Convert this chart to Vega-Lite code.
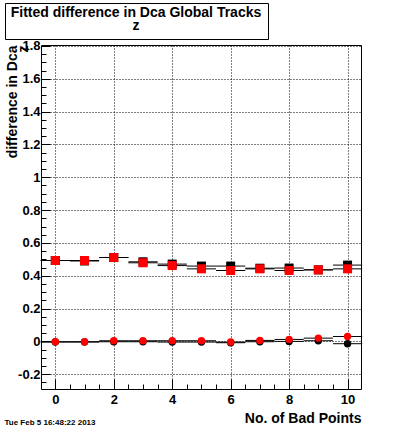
{
  "$schema": "https://vega.github.io/schema/vega-lite/v6.json",
  "background": "white",
  "padding": {"left": 4, "top": 2, "right": 0, "bottom": 0},
  "config": {"font": "Liberation Sans", "view": {"stroke": "black", "strokeWidth": 1}},
  "title": {"text": "Tue Feb  5 16:48:22 2013", "orient": "bottom", "anchor": "start", "fontSize": 8, "fontWeight": "bold", "color": "black", "offset": -6},
  "width": 320,
  "height": 344,
  "data": {"values": [
    {"x": 0, "v": 0.493, "s": "black", "g": "upper"},
    {"x": 1, "v": 0.490, "s": "black", "g": "upper"},
    {"x": 2, "v": 0.511, "s": "black", "g": "upper"},
    {"x": 3, "v": 0.485, "s": "black", "g": "upper"},
    {"x": 4, "v": 0.471, "s": "black", "g": "upper"},
    {"x": 5, "v": 0.459, "s": "black", "g": "upper"},
    {"x": 6, "v": 0.459, "s": "black", "g": "upper"},
    {"x": 7, "v": 0.446, "s": "black", "g": "upper"},
    {"x": 8, "v": 0.447, "s": "black", "g": "upper"},
    {"x": 9, "v": 0.436, "s": "black", "g": "upper"},
    {"x": 10, "v": 0.465, "s": "black", "g": "upper"},
    {"x": 0, "v": -0.004, "s": "black", "g": "lower"},
    {"x": 1, "v": -0.004, "s": "black", "g": "lower"},
    {"x": 2, "v": -0.002, "s": "black", "g": "lower"},
    {"x": 3, "v": -0.002, "s": "black", "g": "lower"},
    {"x": 4, "v": -0.004, "s": "black", "g": "lower"},
    {"x": 5, "v": -0.004, "s": "black", "g": "lower"},
    {"x": 6, "v": -0.008, "s": "black", "g": "lower"},
    {"x": 7, "v": -0.002, "s": "black", "g": "lower"},
    {"x": 8, "v": 0.000, "s": "black", "g": "lower"},
    {"x": 9, "v": 0.004, "s": "black", "g": "lower"},
    {"x": 10, "v": -0.014, "s": "black", "g": "lower"},
    {"x": 0, "v": 0.493, "s": "red", "g": "upper"},
    {"x": 1, "v": 0.493, "s": "red", "g": "upper"},
    {"x": 2, "v": 0.511, "s": "red", "g": "upper"},
    {"x": 3, "v": 0.479, "s": "red", "g": "upper"},
    {"x": 4, "v": 0.462, "s": "red", "g": "upper"},
    {"x": 5, "v": 0.442, "s": "red", "g": "upper"},
    {"x": 6, "v": 0.432, "s": "red", "g": "upper"},
    {"x": 7, "v": 0.442, "s": "red", "g": "upper"},
    {"x": 8, "v": 0.432, "s": "red", "g": "upper"},
    {"x": 9, "v": 0.436, "s": "red", "g": "upper"},
    {"x": 10, "v": 0.442, "s": "red", "g": "upper"},
    {"x": 0, "v": -0.002, "s": "red", "g": "lower"},
    {"x": 1, "v": -0.002, "s": "red", "g": "lower"},
    {"x": 2, "v": 0.004, "s": "red", "g": "lower"},
    {"x": 3, "v": 0.004, "s": "red", "g": "lower"},
    {"x": 4, "v": 0.004, "s": "red", "g": "lower"},
    {"x": 5, "v": 0.004, "s": "red", "g": "lower"},
    {"x": 6, "v": -0.004, "s": "red", "g": "lower"},
    {"x": 7, "v": 0.006, "s": "red", "g": "lower"},
    {"x": 8, "v": 0.012, "s": "red", "g": "lower"},
    {"x": 9, "v": 0.020, "s": "red", "g": "lower"},
    {"x": 10, "v": 0.030, "s": "red", "g": "lower"}
  ]},
  "resolve": {"axis": {"x": "independent", "y": "independent"}},
  "layer": [
    {
      "mark": {"type": "tick", "orient": "horizontal", "size": 29.2, "thickness": 1, "color": "black", "opacity": 1},
      "encoding": {
        "x": {"field": "x", "type": "quantitative", "scale": {"domain": [-0.49, 10.46], "nice": false, "zero": false},
              "axis": {"orient": "bottom", "values": [0,0.5,1,1.5,2,2.5,3,3.5,4,4.5,5,5.5,6,6.5,7,7.5,8,8.5,9,9.5,10], "labels": false, "grid": false, "domain": false, "tickSize": -5, "tickColor": "black", "tickWidth": 1, "title": null}},
        "y": {"field": "v", "type": "quantitative", "scale": {"domain": [-0.29, 1.806], "nice": false, "zero": false},
              "axis": {"orient": "left", "values": [-0.25,-0.2,-0.15,-0.1,-0.05,0,0.05,0.1,0.15,0.2,0.25,0.3,0.35,0.4,0.45,0.5,0.55,0.6,0.65,0.7,0.75,0.8,0.85,0.9,0.95,1,1.05,1.1,1.15,1.2,1.25,1.3,1.35,1.4,1.45,1.5,1.55,1.6,1.65,1.7,1.75,1.8], "labels": false, "grid": false, "domain": false, "tickSize": -5, "tickColor": "black", "tickWidth": 1, "title": null}}
      }
    },
    {
      "mark": {"type": "point", "filled": true, "opacity": 1, "strokeWidth": 0},
      "encoding": {
        "x": {"field": "x", "type": "quantitative",
              "axis": {"orient": "bottom", "values": [0,2,4,6,8,10], "grid": true, "gridColor": "black", "gridOpacity": 1, "gridDash": [1,2], "gridWidth": 1, "domain": false, "tickSize": -10, "tickColor": "black", "tickWidth": 1, "labelFontSize": 13, "labelFontWeight": "bold", "labelColor": "black", "labelPadding": 14, "title": "No. of Bad Points", "titleFontSize": 14, "titleFontWeight": "bold", "titleColor": "black", "titleAnchor": "end", "titlePadding": 5}},
        "y": {"field": "v", "type": "quantitative",
              "axis": {"orient": "left", "values": [-0.2,0,0.2,0.4,0.6,0.8,1,1.2,1.4,1.6,1.8], "labelExpr": "replace(format(datum.value, '~g'), '\u2212', '-')", "grid": true, "gridColor": "black", "gridOpacity": 1, "gridDash": [1,2], "gridWidth": 1, "domain": false, "tickSize": -9, "tickColor": "black", "tickWidth": 1, "labelFontSize": 13, "labelFontWeight": "bold", "labelColor": "black", "labelPadding": 10, "title": ["difference in Dca", "z"], "titleFontSize": 14, "titleFontWeight": "bold", "titleColor": "black", "titleAnchor": "end", "titleLineHeight": 11, "titlePadding": -13}},
        "color": {"field": "s", "type": "nominal", "scale": {"domain": ["black", "red"], "range": ["#000000", "#ff0000"]},
                  "legend": {"orient": "none", "legendX": -36, "legendY": -42, "values": ["black"], "title": ["Fitted difference in Dca Global Tracks", "z"], "titleOrient": "right", "titleAlign": "center", "titleFontSize": 14, "titleFontWeight": "bold", "titleColor": "black", "titleLineHeight": 13, "titlePadding": 8, "titleLimit": 400, "symbolSize": 400, "symbolOpacity": 0, "symbolStrokeWidth": 0, "labelExpr": "''", "labelFontSize": 1, "labelOffset": 4, "padding": 6, "strokeColor": "black", "fillColor": "white"}},
        "shape": {"field": "g", "type": "nominal", "scale": {"domain": ["upper", "lower"], "range": ["square", "circle"]}, "legend": null},
        "size": {"field": "g", "type": "ordinal", "scale": {"domain": ["upper", "lower"], "range": [81, 55]}, "legend": null}
      }
    }
  ]
}
